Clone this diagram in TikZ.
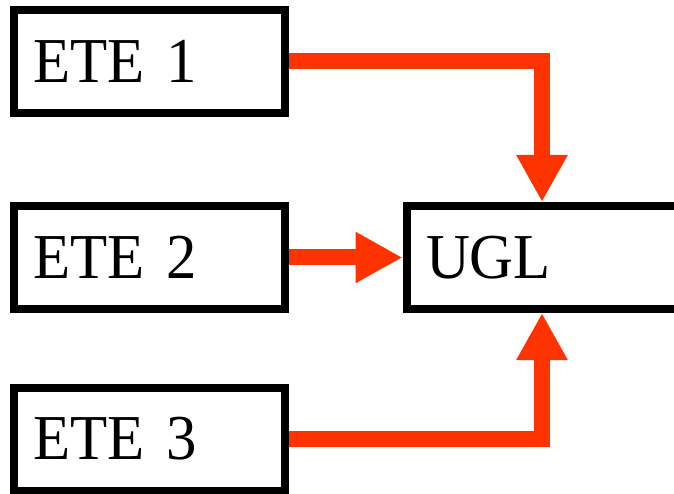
\documentclass[tikz,border=0pt]{standalone}
\usepackage{fontspec}
\setmainfont{Liberation Serif}[FakeStretch=0.95]
\usetikzlibrary{arrows.meta}
\definecolor{feed}{RGB}{255,51,0}
\begin{document}
\begin{tikzpicture}[x=1pt, y=1pt,
  unit/.style={draw, line width=8pt, text width=232pt, inner xsep=19.5pt, inner ysep=0pt,
    minimum height=103pt, align=left, font=\fontsize{64}{64}\selectfont},
  feedline/.style={line width=16pt, feed, -{Triangle[width=48pt, length=47pt]}}]
  \clip (0,0) rectangle (674,493);

  % Units
  \node[unit] (ete1) at (149.5, 431.5) {ETE 1};
  \node[unit] (ete2) at (149.5, 235.5) {ETE 2};
  \node[unit] (ete3) at (149.5, 54) {ETE 3};
  \node[unit] (ugl) at (542, 235.5) {UGL};

  % Feeds into UGL
  \draw[feedline] (ete1.east) -| (ugl.north);
  \draw[feedline] (ete2) -- (ugl);
  \draw[feedline] (ete3.east) -| (ugl.south);
\end{tikzpicture}
\end{document}
